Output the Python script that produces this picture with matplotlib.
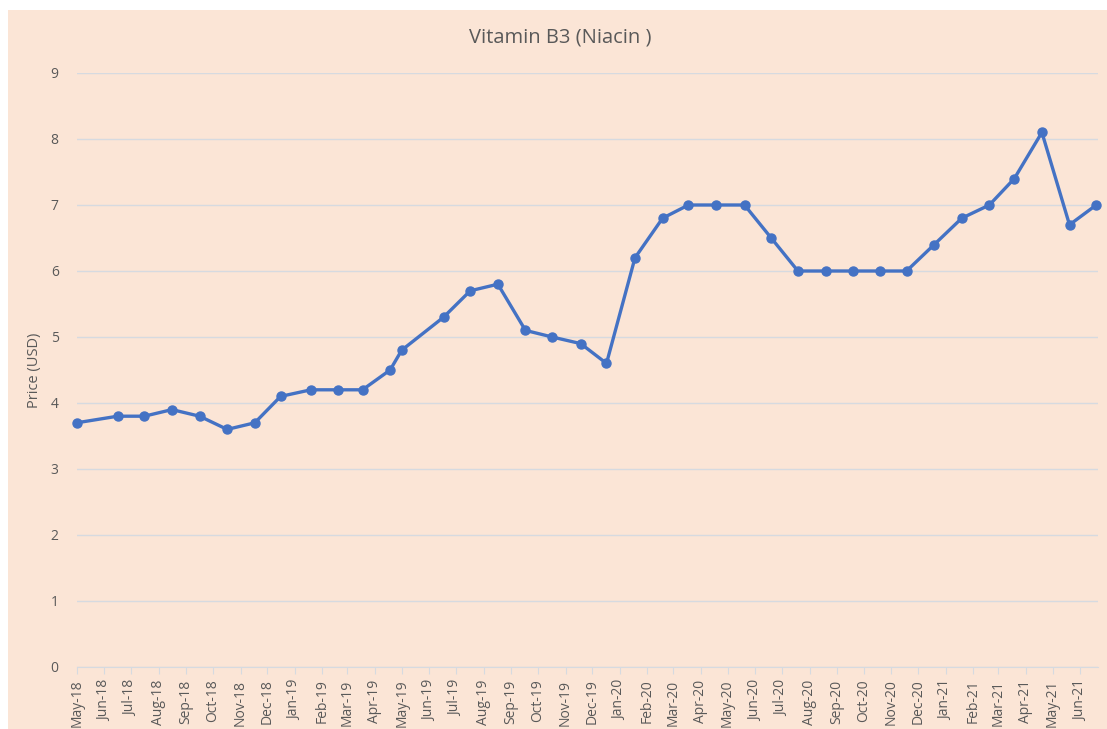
import matplotlib
matplotlib.use('Agg')
import matplotlib.pyplot as plt
import matplotlib.dates as mdates
from matplotlib.patches import Rectangle
import numpy as np
import datetime as dt

# price points (date, USD)
dates = ['2018-05-01', '2018-06-16', '2018-07-16', '2018-08-16', '2018-09-16',
         '2018-10-17', '2018-11-17', '2018-12-16', '2019-01-19', '2019-02-19',
         '2019-03-18', '2019-04-18', '2019-05-01', '2019-06-17', '2019-07-17',
         '2019-08-17', '2019-09-17', '2019-10-17', '2019-11-18', '2019-12-17',
         '2020-01-18', '2020-02-18', '2020-03-18', '2020-04-18', '2020-05-20',
         '2020-06-19', '2020-07-19', '2020-08-19', '2020-09-19', '2020-10-19',
         '2020-11-18', '2020-12-19', '2021-01-19', '2021-02-19', '2021-03-19',
         '2021-04-19', '2021-05-20', '2021-06-19']
prices = [3.7, 3.8, 3.8, 3.9, 3.8, 3.6, 3.7, 4.1, 4.2, 4.2,
          4.2, 4.5, 4.8, 5.3, 5.7, 5.8, 5.1, 5.0, 4.9, 4.6,
          6.2, 6.8, 7.0, 7.0, 7.0, 6.5, 6.0, 6.0, 6.0, 6.0,
          6.0, 6.4, 6.8, 7.0, 7.4, 8.1, 6.7, 7.0]
y_ticks = [0, 1, 2, 3, 4, 5, 6, 7, 8, 9]

x = [dt.datetime.strptime(d, '%Y-%m-%d') for d in dates]

txt = '#595959'
grid = '#D6DAE0'
plt.rcParams['font.family'] = ['Open Sans', 'DejaVu Sans']

fig = plt.figure(figsize=(11.07, 7.29), dpi=100)
fig.patch.set_facecolor('white')
fig.patches.append(Rectangle((8/1107, 0), 1 - 8/1107, 1 - 10/729,
                             transform=fig.transFigure, facecolor='#FBE5D6',
                             edgecolor='none', zorder=-5))

ax = fig.add_axes([76.7/1107, 62/729, (1098 - 76.7)/1107, 594/729])
ax.set_zorder(2)
ax.patch.set_alpha(0)
ax.plot(x, prices, color='#4472C4', lw=2.4, marker='o', ms=6.5, zorder=3,
        clip_on=False)

ax.set_ylim(0, 9)
ax.set_yticks(y_ticks)
ax.set_xlim(dt.datetime(2018, 5, 1), dt.datetime(2021, 6, 21))
ax.xaxis.set_major_locator(mdates.MonthLocator())
ax.xaxis.set_major_formatter(mdates.DateFormatter('%b-%y'))

ax.grid(axis='y', color=grid, lw=1)
ax.set_axisbelow(True)
for s in ['top', 'right', 'left']:
    ax.spines[s].set_visible(False)
ax.spines['bottom'].set_color(grid)
ax.tick_params(axis='y', length=0, pad=13, labelsize=10, labelcolor=txt)
ax.tick_params(axis='x', length=5, color=grid, pad=4, labelsize=10,
               labelcolor=txt, labelrotation=90)

ax.set_ylabel('Price (USD)', color=txt, fontsize=10.5, labelpad=6)
fig.text(0.506, 1 - 37/729, 'Vitamin B3 (Niacin )', ha='center', va='center',
         color=txt, fontsize=14.5)

fig.savefig('out.png', dpi=100)
